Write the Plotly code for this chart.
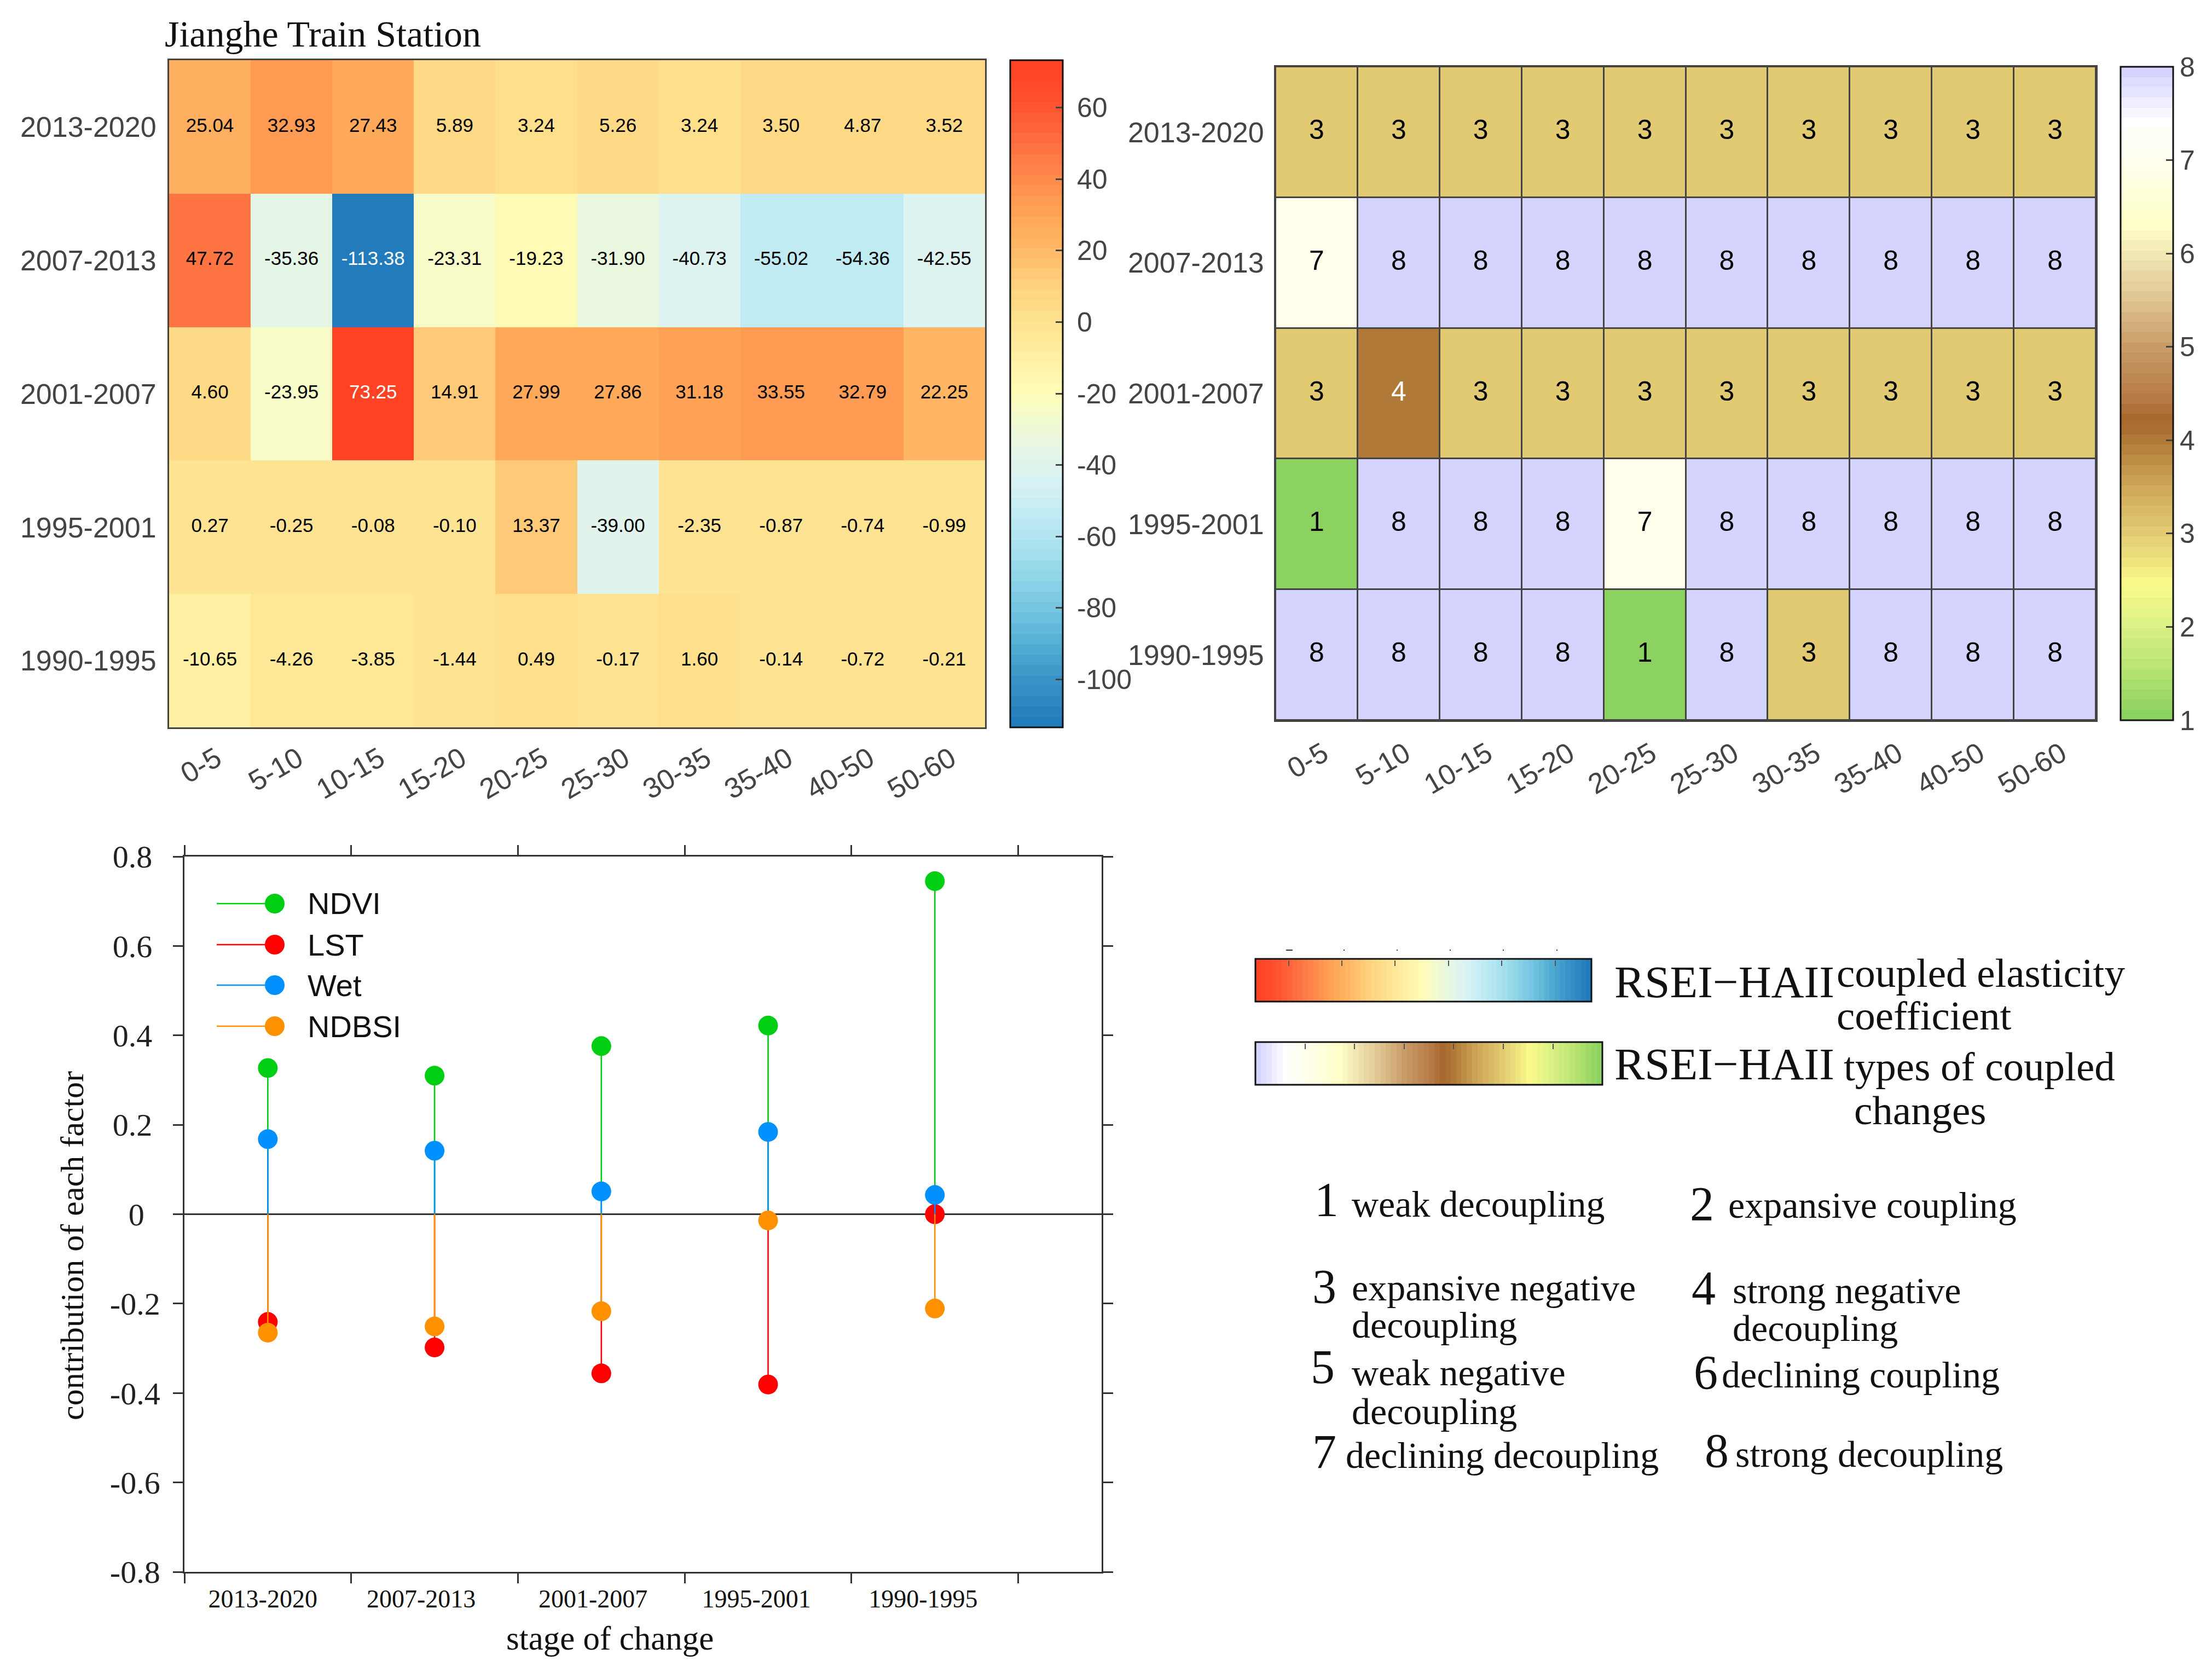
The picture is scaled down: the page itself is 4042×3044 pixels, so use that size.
import plotly.graph_objects as go

W, H = 4042, 3044
SANS = "Liberation Sans"
SERIF = "Liberation Serif"
INK = "#444444"

# ---------- data ----------
distance_bins = ["0-5", "5-10", "10-15", "15-20", "20-25", "25-30", "30-35", "35-40", "40-50", "50-60"]
stages = ["2013-2020", "2007-2013", "2001-2007", "1995-2001", "1990-1995"]

elasticity = [
    [25.04, 32.93, 27.43, 5.89, 3.24, 5.26, 3.24, 3.50, 4.87, 3.52],
    [47.72, -35.36, -113.38, -23.31, -19.23, -31.90, -40.73, -55.02, -54.36, -42.55],
    [4.60, -23.95, 73.25, 14.91, 27.99, 27.86, 31.18, 33.55, 32.79, 22.25],
    [0.27, -0.25, -0.08, -0.10, 13.37, -39.00, -2.35, -0.87, -0.74, -0.99],
    [-10.65, -4.26, -3.85, -1.44, 0.49, -0.17, 1.60, -0.14, -0.72, -0.21],
]
coupling_type = [
    [3, 3, 3, 3, 3, 3, 3, 3, 3, 3],
    [7, 8, 8, 8, 8, 8, 8, 8, 8, 8],
    [3, 4, 3, 3, 3, 3, 3, 3, 3, 3],
    [1, 8, 8, 8, 7, 8, 8, 8, 8, 8],
    [8, 8, 8, 8, 1, 8, 3, 8, 8, 8],
]
stage_pos = [0.5, 1.5, 2.5, 3.5, 4.5]
stage_label_pos = [0.47, 1.42, 2.45, 3.43, 4.43]
ndvi = [0.327, 0.310, 0.376, 0.422, 0.745]
lst = [-0.241, -0.298, -0.356, -0.381, 0.0]
wet = [0.168, 0.142, 0.051, 0.184, 0.043]
ndbsi = [-0.265, -0.251, -0.217, -0.014, -0.211]

factor_names = ["NDVI", "LST", "Wet", "NDBSI"]
factor_values = [ndvi, lst, wet, ndbsi]
factor_colors = ["#00CE12", "#FF0000", "#0090FF", "#FF9000"]

y_ticks = [-0.8, -0.6, -0.4, -0.2, 0, 0.2, 0.4, 0.6, 0.8]
y_tick_text = ["-0.8", "-0.6", "-0.4", "-0.2", "0\u00a0\u00a0", "0.2\u00a0", "0.4\u00a0", "0.6\u00a0", "0.8\u00a0"]

cbar1_ticks = [-100, -80, -60, -40, -20, 0, 20, 40, 60]
cbar1_text = ["\u00a0-100", "\u00a0-80", "\u00a0-60", "\u00a0-40", "\u00a0-20", "\u00a00", "\u00a020", "\u00a040", "\u00a060"]

# colour anchors
ELAST_MIN, ELAST_MAX = -113.38, 73.25
elast_stops = [(73.25, "#FF3F22"), (60, "#FF5530"), (47, "#FF7845"), (40, "#FF8A4D"), (30, "#FFA557"),
               (20, "#FFBA68"), (10, "#FFD27F"), (5, "#FFDA85"), (0, "#FEE290"), (-10, "#FFF0A4"),
               (-20, "#FFFDB8"), (-27, "#F3FACF"), (-35, "#E6F6E4"), (-43, "#DCF3F2"), (-50, "#CAEEF4"),
               (-60, "#B2E5F1"), (-70, "#93D8E8"), (-80, "#76C5E2"), (-90, "#52AFD4"), (-100, "#3A94C6"),
               (-113.38, "#1F78B8")]
type_stops = [(8, "#D0D0FF"), (7.4, "#FFFFFF"), (7, "#FFFFEE"), (6.3, "#FFFFC8"), (6, "#F2E9B4"),
              (5.5, "#DFC491"), (5, "#C89B68"), (4.5, "#B87E4A"), (4.2, "#A8672C"), (4, "#B07A38"),
              (3.5, "#CFA85A"), (3, "#E2CC72"), (2.75, "#ECE07C"), (2.45, "#FBFB8B"), (2, "#D9F085"),
              (1.5, "#B4E270"), (1, "#86D05F")]


def hex_rgb(c):
    return tuple(int(c[i:i + 2], 16) for i in (1, 3, 5))


def stepped(stops, lo, hi, levels=64, reverse=False):
    """Build a 64-level stepped colorscale from value/colour anchors."""
    pts = sorted(stops)
    out = []
    for i in range(levels):
        v = lo + (hi - lo) * (i + 0.5) / levels
        for (a, ca), (b, cb) in zip(pts, pts[1:]):
            if a <= v <= b:
                t = (v - a) / (b - a)
                ra, rb = hex_rgb(ca), hex_rgb(cb)
                col = "rgb(%d,%d,%d)" % tuple(round(ra[k] + (rb[k] - ra[k]) * t) for k in range(3))
                break
        out.append(col)
    if reverse:
        out = out[::-1]
    scale = []
    for i, col in enumerate(out):
        scale += [[i / levels, col], [(i + 1) / levels, col]]
    return scale


elast_scale = stepped(elast_stops, ELAST_MIN, ELAST_MAX)
type_scale = stepped(type_stops, 1, 8)


def dom_x(a, b):
    return [a / W, b / W]


def dom_y(top, bottom):
    return [1 - bottom / H, 1 - top / H]


def px(x):
    return x / W


def py(y):
    return 1 - y / H


fig = go.Figure()

# ---------- heat map 1 ----------
fig.add_trace(go.Heatmap(
    z=elasticity, x=distance_bins, y=stages, zmin=ELAST_MIN, zmax=ELAST_MAX,
    colorscale=elast_scale, xaxis="x", yaxis="y", hoverinfo="skip",
    colorbar=dict(x=px(1846), xanchor="left", xpad=0, y=py(1329), yanchor="bottom", ypad=0,
                  len=1219, lenmode="pixels", thickness=96, thicknessmode="pixels",
                  outlinecolor="#111111", outlinewidth=3,
                  tickvals=cbar1_ticks, ticktext=cbar1_text, ticks="inside", ticklen=14, tickwidth=3, tickcolor=INK,
                  tickfont=dict(family=SANS, size=50, color=INK)),
))
x1, y1, t1, c1 = [], [], [], []
for r, row in enumerate(elasticity):
    for c, v in enumerate(row):
        x1.append(distance_bins[c]); y1.append(stages[r]); t1.append(f"{v:.2f}")
        c1.append("white" if abs(v) > 70 else "black")
fig.add_trace(go.Scatter(x=x1, y=y1, text=t1, mode="text", xaxis="x", yaxis="y", hoverinfo="skip",
                         textfont=dict(family=SANS, size=35, color=c1), showlegend=False))

# ---------- heat map 2 ----------
fig.add_trace(go.Heatmap(
    z=coupling_type, x=distance_bins, y=stages, zmin=1, zmax=8,
    colorscale=type_scale, xaxis="x2", yaxis="y2", hoverinfo="skip", xgap=3, ygap=3,
    colorbar=dict(x=px(3875), xanchor="left", xpad=0, y=py(1316), yanchor="bottom", ypad=0,
                  len=1194, lenmode="pixels", thickness=96, thicknessmode="pixels",
                  outlinecolor="#111111", outlinewidth=3,
                  tick0=1, dtick=1, ticks="inside", ticklen=14, tickwidth=3, tickcolor=INK,
                  tickfont=dict(family=SANS, size=50, color=INK)),
))
x2, y2, t2, c2 = [], [], [], []
for r, row in enumerate(coupling_type):
    for c, v in enumerate(row):
        x2.append(distance_bins[c]); y2.append(stages[r]); t2.append(str(v))
        c2.append("white" if v == 4 else "black")
fig.add_trace(go.Scatter(x=x2, y=y2, text=t2, mode="text", xaxis="x2", yaxis="y2", hoverinfo="skip",
                         textfont=dict(family=SANS, size=50, color=c2), showlegend=False))

# ---------- stems ----------
for name, vals, col in zip(factor_names, factor_values, factor_colors):
    fig.add_trace(go.Scatter(
        x=stage_pos, y=vals, name=name, mode="markers", xaxis="x3", yaxis="y3", showlegend=False,
        marker=dict(size=36, color=col, line=dict(width=0)),
        error_y=dict(type="data", symmetric=False, array=[max(-v, 0) for v in vals],
                     arrayminus=[max(v, 0) for v in vals], width=0, thickness=2.6, color=col),
    ))
# carrier for the category-label axis
fig.add_trace(go.Scatter(x=[None], y=[None], xaxis="x4", yaxis="y3", showlegend=False, hoverinfo="skip"))

# ---------- detached horizontal colour strips ----------
STRIP1_TOP, STRIP1_BOT = 1753, 1831
STRIP2_TOP, STRIP2_BOT = 1905, 1983
fig.add_trace(go.Scatter(
    x=[None], y=[None], mode="markers", xaxis="x3", yaxis="y3", showlegend=False, hoverinfo="skip",
    marker=dict(color=[-ELAST_MAX], cmin=-ELAST_MAX, cmax=-ELAST_MIN, showscale=True,
                colorscale=stepped(elast_stops, ELAST_MIN, ELAST_MAX, reverse=True),
                colorbar=dict(orientation="h", x=px(2294), xanchor="left", xpad=0,
                              y=py(STRIP1_BOT + 2), yanchor="bottom", ypad=0,
                              len=614, lenmode="pixels", thickness=78, thicknessmode="pixels",
                              outlinecolor="#111111", outlinewidth=3, ticks="", showticklabels=False)),
))
fig.add_trace(go.Scatter(
    x=[None], y=[None], mode="markers", xaxis="x3", yaxis="y3", showlegend=False, hoverinfo="skip",
    marker=dict(color=[-8], cmin=-8, cmax=-1, showscale=True,
                colorscale=stepped(type_stops, 1, 8, reverse=True),
                colorbar=dict(orientation="h", x=px(2294), xanchor="left", xpad=0,
                              y=py(STRIP2_BOT + 2), yanchor="bottom", ypad=0,
                              len=634, lenmode="pixels", thickness=78, thicknessmode="pixels",
                              outlinecolor="#111111", outlinewidth=3, ticks="", showticklabels=False)),
))

# ---------- legend samples, drawn in page coordinates ----------
shapes = [dict(type="rect", xref="x2 domain", yref="y2 domain", x0=0, x1=1, y0=0, y1=1,
               fillcolor="#444444", line=dict(width=0), layer="below")]
annotations = []
legend_rows = [1651, 1726, 1800, 1875]
for name, col, yy in zip(factor_names, factor_colors, legend_rows):
    shapes.append(dict(type="line", xref="paper", yref="paper", x0=px(396), x1=px(490), y0=py(yy), y1=py(yy),
                       line=dict(color=col, width=2.6)))
    shapes.append(dict(type="circle", xref="paper", yref="paper", x0=px(484), x1=px(520),
                       y0=py(yy + 18), y1=py(yy - 18), fillcolor=col, line=dict(width=0)))
    annotations.append(dict(xref="paper", yref="paper", x=px(560), y=py(yy), text=name, showarrow=False,
                            xanchor="left", yanchor="middle", font=dict(family=SANS, size=56, color="#111111")))

# tiny marks above the first strip
for xx, half in [(2356, 6), (2456, 1), (2553, 1), (2650, 1), (2747, 1), (2845, 1)]:
    shapes.append(dict(type="line", xref="paper", yref="paper", x0=px(xx - half), x1=px(xx + half),
                       y0=py(1736), y1=py(1736), line=dict(color="#333333", width=2)))

# inward tick marks along the upper edge of each strip
for xs, top in [((2355, 2452, 2549, 2647, 2744, 2842), STRIP1_TOP),
                ((2385, 2475, 2566, 2656, 2747, 2838), STRIP2_TOP)]:
    for xx in xs:
        annotations.append(dict(xref="paper", yref="paper", x=px(xx), y=py(top + 12), text="\u00a0",
                                showarrow=True, arrowhead=0, arrowwidth=2, arrowcolor="#555555",
                                ax=0, ay=-12, axref="pixel", ayref="pixel", standoff=0, startstandoff=0,
                                font=dict(size=1)))


# ---------- free text ----------
def note(x, y, text, size, family=SERIF, color="#111111", angle=0, xanchor="left"):
    annotations.append(dict(xref="paper", yref="paper", x=px(x), y=py(y), text=text, showarrow=False,
                            xanchor=xanchor, yanchor="middle", textangle=angle,
                            font=dict(family=family, size=size, color=color)))


note(299, 62, "Jianghe Train Station", 68)
note(2948, 1794, "RSEI\u2212HAII", 83)
note(3354, 1777, "coupled elasticity", 75)
note(3354, 1855, "coefficient", 75)
note(2948, 1944, "RSEI\u2212HAII", 83)
note(3367, 1949, "types of coupled", 75)
note(3386, 2028, "changes", 75)
for x, y, s in [(2400, 2191, "1"), (3086, 2199, "2"), (2396, 2350, "3"), (3089, 2353, "4"),
                (2393, 2497, "5"), (3093, 2507, "6"), (2396, 2652, "7"), (3113, 2650, "8")]:
    note(x, y, s, 88)
for x, y, s in [(2468, 2200, "weak decoupling"), (3156, 2202, "expansive coupling"),
                (2468, 2353, "expansive negative"), (2468, 2421, "decoupling"),
                (3164, 2358, "strong negative"), (3164, 2427, "decoupling"),
                (2468, 2508, "weak negative"), (2468, 2579, "decoupling"),
                (3144, 2512, "declining coupling"),
                (2457, 2659, "declining decoupling"), (3169, 2657, "strong decoupling")]:
    note(x, y, s, 68)
note(1114, 2993, "stage of change", 61, xanchor="center")
note(132, 2276, "contribution of each factor", 60, angle=-90, xanchor="center")

tick_font = dict(family=SANS, size=52, color=INK)
heat_x = dict(type="category", tickangle=-30, tickfont=tick_font, ticks="", showline=True, mirror=True,
              linecolor="#444444", linewidth=3, showgrid=False, zeroline=False, ticklabelshift=12)
heat_y = dict(type="category", autorange="reversed", tickfont=tick_font, ticks="", showline=True, mirror=True,
              linecolor="#444444", linewidth=3, showgrid=False, zeroline=False)

fig.update_layout(
    width=W, height=H, margin=dict(l=0, r=0, t=0, b=0, pad=0, autoexpand=False),
    template="none", paper_bgcolor="white", plot_bgcolor="white", showlegend=False,
    xaxis=dict(domain=dom_x(309, 1800), anchor="y", ticklabelstandoff=4, **heat_x),
    yaxis=dict(domain=dom_y(110, 1329), anchor="x", ticklabelstandoff=10, **heat_y),
    xaxis2=dict(domain=dom_x(2331, 3830), anchor="y2", ticklabelstandoff=8, **heat_x),
    yaxis2=dict(domain=dom_y(122, 1316), anchor="x2", ticklabelstandoff=8, **heat_y),
    xaxis3=dict(domain=dom_x(337, 2013), anchor="y3", range=[0, 5.5], tickvals=[0, 1, 2, 3, 4, 5],
                showticklabels=False, ticks="outside", ticklen=18, tickwidth=2.5, tickcolor="#333333",
                showline=True, mirror="ticks", linecolor="#333333", linewidth=2.5,
                showgrid=False, zeroline=False),
    xaxis4=dict(domain=dom_x(337, 2013), anchor="y3", overlaying="x3", range=[0, 5.5],
                tickvals=stage_label_pos, ticktext=stages, ticks="", showline=False, showgrid=False,
                zeroline=False, ticklabelstandoff=18,
                tickfont=dict(family=SERIF, size=46, color="#111111")),
    yaxis3=dict(domain=dom_y(1565, 2872), anchor="x3", range=[-0.8, 0.8], tickvals=y_ticks, ticktext=y_tick_text,
                ticks="outside", ticklen=18, tickwidth=2.5, tickcolor="#333333",
                showline=True, mirror="ticks", linecolor="#333333", linewidth=2.5, showgrid=False,
                zeroline=True, zerolinecolor="#333333", zerolinewidth=3, ticklabelstandoff=12,
                tickfont=dict(family=SERIF, size=58, color="#222222")),
    shapes=shapes, annotations=annotations,
)

fig.write_html("out.html", config={"displayModeBar": False}, post_script="document.body.style.margin='0';")
